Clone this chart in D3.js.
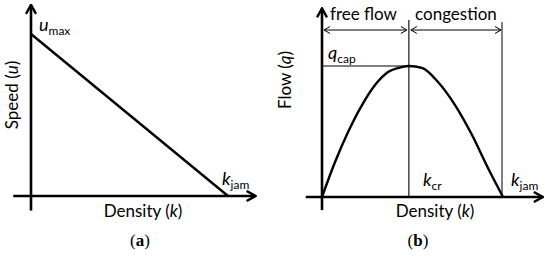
<!DOCTYPE html>
<html>
<head>
<meta charset="utf-8">
<script src="https://cdn.jsdelivr.net/npm/d3@7"></script>
<style>
  body { margin: 0; background: #fff; }
  text { font-family: Lato, "Liberation Sans", sans-serif; fill: #000; }
</style>
</head>
<body>
<svg id="chart" width="550" height="257"></svg>
<script>
// panel (a): speed-density, straight line from u_max to k_jam
const densityA = [0, 1]
const speedA = [1, 0]

// panel (b): flow-density (k / k_jam, q / q_cap)
const densityB = [0, 0.072, 0.144, 0.221, 0.293, 0.365, 0.442, 0.48, 0.552, 0.641, 0.735, 0.829, 0.917, 1]
const flowB = [0, 0.267, 0.496, 0.702, 0.855, 0.954, 0.992, 1, 0.985, 0.878, 0.702, 0.473, 0.221, 0]
const kCritical = 0.48
const qCapacity = 1
const kJam = 1

const regimes = ["free flow", "congestion"]

const svg = d3.select("#chart")

const defs = svg.append("defs")
function chevron(id, len, half, width) {
    defs.append("marker")
        .attr("id", id)
        .attr("markerUnits", "userSpaceOnUse")
        .attr("viewBox", `${-len - 1} ${-half - 1} ${len + 2} ${2 * half + 2}`)
        .attr("refX", 0).attr("refY", 0)
        .attr("markerWidth", len + 2).attr("markerHeight", 2 * half + 2)
        .attr("orient", "auto-start-reverse")
        .append("path")
        .attr("d", `M${-len},${-half}L0,0L${-len},${half}`)
        .attr("fill", "none")
        .attr("stroke", "#000")
        .attr("stroke-width", width)
}
chevron("bigArrow", 9, 5, 2.4)
chevron("smallArrow", 6, 3.5, 1)

function axes(g, x, y, xMin, xTip, yMin, yTip) {
    g.append("line")
        .attr("x1", x(xMin)).attr("x2", x(xTip))
        .attr("y1", y(0)).attr("y2", y(0))
        .attr("stroke", "#000").attr("stroke-width", 2.6)
        .attr("marker-end", "url(#bigArrow)")
    g.append("line")
        .attr("x1", x(0)).attr("x2", x(0))
        .attr("y1", y(yMin)).attr("y2", y(yTip))
        .attr("stroke", "#000").attr("stroke-width", 2.6)
        .attr("marker-end", "url(#bigArrow)")
}

function subLabel(g, x, y, main, sub, subSize) {
    const t = g.append("text").attr("x", x).attr("y", y).attr("font-size", 18)
    t.append("tspan").attr("font-style", "italic").text(main)
    t.append("tspan").attr("font-size", subSize || 12).attr("dy", 4).text(sub)
}

// ---------- (a) ----------
const xA = d3.scaleLinear().domain([0, 1]).range([31, 228])
const yA = d3.scaleLinear().domain([0, 1]).range([196, 34])
const gA = svg.append("g")

axes(gA, xA, yA, -0.09, 1.14, -0.09, 1.18)

gA.append("path")
    .datum(densityA.map((d, i) => [d, speedA[i]]))
    .attr("d", d3.line().x(d => xA(d[0])).y(d => yA(d[1])))
    .attr("fill", "none").attr("stroke", "#000").attr("stroke-width", 2.4)

subLabel(gA, xA(0) + 8, yA(1) - 3, "u", "max")
subLabel(gA, xA(1) - 6, yA(0) - 11, "k", "jam")

const densA = gA.append("text")
    .attr("x", 143).attr("y", 217).attr("text-anchor", "middle").attr("font-size", 17)
densA.append("tspan").text("Density (")
densA.append("tspan").attr("font-style", "italic").text("k")
densA.append("tspan").text(")")

const spd = gA.append("text")
    .attr("transform", "translate(18,95) rotate(-90)")
    .attr("text-anchor", "middle").attr("font-size", 17)
spd.append("tspan").text("Speed (")
spd.append("tspan").attr("font-style", "italic").text("u")
spd.append("tspan").text(")")

const capA = gA.append("text")
    .attr("x", 140).attr("y", 246).attr("text-anchor", "middle")
    .attr("font-size", 17).style("font-family", "'Liberation Serif', serif")
capA.append("tspan").text("(")
capA.append("tspan").attr("font-weight", "bold").text("a")
capA.append("tspan").text(")")

// ---------- (b) ----------
const xB = d3.scaleLinear().domain([0, 1]).range([322, 503])
const yB = d3.scaleLinear().domain([0, 1]).range([197, 66])
const gB = svg.append("g")

// thin guide lines
gB.append("line")
    .attr("x1", xB(kCritical)).attr("x2", xB(kCritical))
    .attr("y1", yB(0)).attr("y2", 20)
    .attr("stroke", "#000").attr("stroke-width", 1.1)
gB.append("line")
    .attr("x1", xB(kJam) - 1).attr("x2", xB(kJam) - 1)
    .attr("y1", yB(0)).attr("y2", 22)
    .attr("stroke", "#000").attr("stroke-width", 1)
gB.append("line")
    .attr("x1", xB(0)).attr("x2", xB(kCritical))
    .attr("y1", yB(qCapacity)).attr("y2", yB(qCapacity))
    .attr("stroke", "#000").attr("stroke-width", 1.1)

// regime double arrows
const spans = [[0, kCritical], [kCritical, kJam]]
spans.forEach((s, i) => {
    gB.append("line")
        .attr("x1", xB(s[0]) + 2).attr("x2", xB(s[1]) - 2)
        .attr("y1", 30).attr("y2", 30)
        .attr("stroke", "#000").attr("stroke-width", 1)
        .attr("marker-start", "url(#smallArrow)")
        .attr("marker-end", "url(#smallArrow)")
    gB.append("text")
        .attr("x", (xB(s[0]) + xB(s[1])) / 2 + (i === 0 ? -2 : 0)).attr("y", 20)
        .attr("text-anchor", "middle").attr("font-size", 17)
        .text(regimes[i])
})

axes(gB, xB, yB, -0.09, 1.22, -0.1, 1.44)

gB.append("path")
    .datum(densityB.map((d, i) => [d, flowB[i]]))
    .attr("d", d3.line().curve(d3.curveMonotoneX).x(d => xB(d[0])).y(d => yB(d[1])))
    .attr("fill", "none").attr("stroke", "#000").attr("stroke-width", 2.4)

subLabel(gB, xB(0) + 6, yB(qCapacity) - 7, "q", "cap")
subLabel(gB, xB(kCritical) + 14, yB(0) - 11, "k", "cr")
subLabel(gB, xB(kJam) + 8, yB(0) - 11, "k", "jam")

const densB = gB.append("text")
    .attr("x", 435).attr("y", 217).attr("text-anchor", "middle").attr("font-size", 17)
densB.append("tspan").text("Density (")
densB.append("tspan").attr("font-style", "italic").text("k")
densB.append("tspan").text(")")

const flw = gB.append("text")
    .attr("transform", "translate(291,80) rotate(-90)")
    .attr("text-anchor", "middle").attr("font-size", 17)
flw.append("tspan").text("Flow (")
flw.append("tspan").attr("font-style", "italic").text("q")
flw.append("tspan").text(")")

const capB = gB.append("text")
    .attr("x", 418).attr("y", 246).attr("text-anchor", "middle")
    .attr("font-size", 17).style("font-family", "'Liberation Serif', serif")
capB.append("tspan").text("(")
capB.append("tspan").attr("font-weight", "bold").text("b")
capB.append("tspan").text(")")
</script>
</body>
</html>
